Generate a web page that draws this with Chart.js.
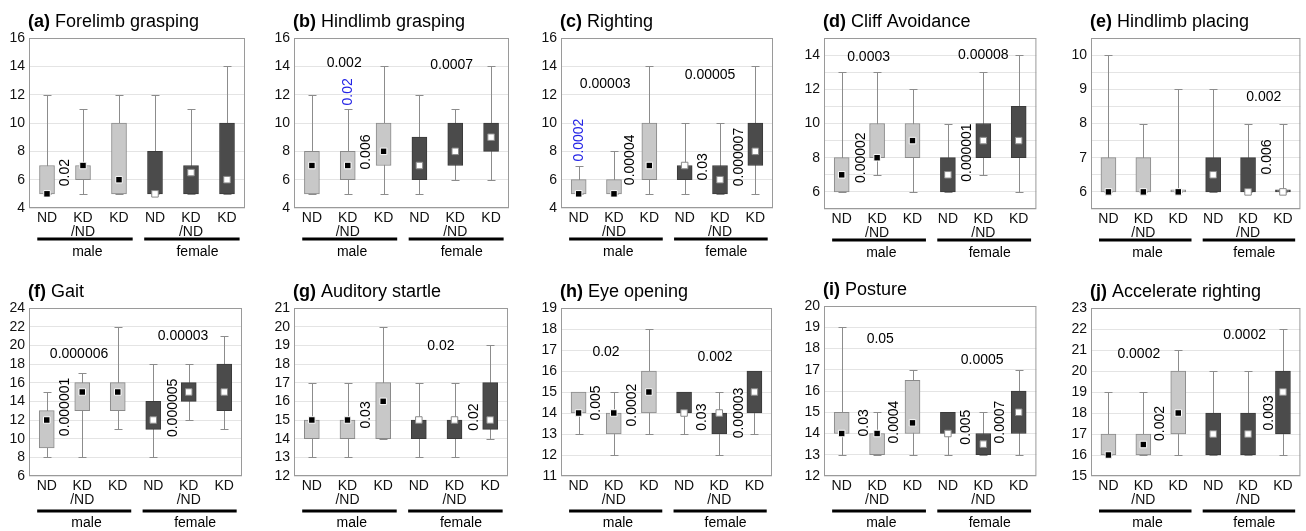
<!DOCTYPE html>
<html>
<head>
<meta charset="utf-8">
<script src="https://cdn.jsdelivr.net/npm/chart.js@4"></script>
<style>
    body { margin: 0; background: #fff; width: 1306px; height: 531px; overflow: hidden; position: relative; }
    .panel { position: absolute; }
</style>
</head>
<body>
<script>
// categories and group labels
const groupLabels = ['ND', ['KD', '/ND'], 'KD', 'ND', ['KD', '/ND'], 'KD'];
const sexLabels = ['male', 'female'];

// one entry per panel, (a) .. (j)
const panelLetters = ['(a)', '(b)', '(c)', '(d)', '(e)', '(f)', '(g)', '(h)', '(i)', '(j)'];
const panelTitles = ['Forelimb grasping', 'Hindlimb grasping', 'Righting', 'Cliff Avoidance', 'Hindlimb placing',
    'Gait', 'Auditory startle', 'Eye opening', 'Posture', 'Accelerate righting'];

const yMin = [4, 4, 4, 5, 5.5, 6, 12, 11, 12, 15];
const yMax = [16, 16, 16, 15, 10.5, 24, 21, 19, 20, 23];
const yGridStep = [2, 2, 2, 1, 0.5, 2, 1, 1, 1, 1];
const yLabelStep = [2, 2, 2, 2, 1, 2, 1, 1, 1, 1];

// box edges (lower / upper quartile)
const boxLow = [
    [5, 6, 5, 5, 5, 5],
    [5, 6, 7, 6, 7, 8],
    [5, 5, 6, 6, 5, 7],
    [6, 8, 8, 6, 8, 8],
    [6, 6, 6, 6, 6, 6],
    [9, 13, 13, 11, 14, 13],
    [14, 14, 14, 14, 14, 14.5],
    [14, 13, 14, 14, 13, 14],
    [14, 13, 14, 14, 13, 14],
    [16, 16, 17, 16, 16, 17]
];
const boxHigh = [
    [7, 7, 10, 8, 7, 10],
    [8, 8, 10, 9, 10, 10],
    [6, 6, 10, 7, 7, 10],
    [8, 10, 10, 8, 10, 11],
    [7, 7, 6, 7, 7, 6],
    [13, 16, 16, 14, 16, 18],
    [15, 15, 17, 15, 15, 17],
    [15, 14, 16, 15, 14, 16],
    [15, 14, 16.5, 15, 14, 16],
    [17, 17, 20, 18, 18, 20]
];
// whisker ends
const whiskerLow = [
    [5, 5, 5, 5, 5, 5],
    [5, 5, 5, 5, 6, 6],
    [5, 5, 5, 5, 5, 5],
    [6, 7, 6, 6, 7, 6],
    [6, 6, 6, 6, 6, 6],
    [8, 8, 11, 8, 12, 11],
    [13, 13, 14, 13, 13, 14],
    [13, 12, 13, 13, 12, 13],
    [13, 13, 13, 13, 13, 13],
    [16, 16, 16, 16, 16, 16]
];
const whiskerHigh = [
    [12, 11, 12, 12, 11, 14],
    [12, 11, 14, 12, 11, 14],
    [7, 8, 14, 10, 10, 14],
    [13, 13, 12, 10, 13, 14],
    [10, 8, 9, 9, 8, 8],
    [15, 17, 22, 18, 18, 21],
    [17, 17, 20, 17, 17, 19],
    [15, 15, 18, 15, 15, 16],
    [19, 15, 17, 15, 15, 17],
    [19, 19, 21, 20, 20, 22]
];
const medians = [
    [5, 7, 6, 5, 6.5, 6],
    [7, 7, 8, 7, 8, 9],
    [5, 5, 7, 7, 6, 8],
    [7, 8, 9, 7, 9, 9],
    [6, 6, 6, 6.5, 6, 6],
    [12, 15, 15, 12, 15, 15],
    [15, 15, 16, 15, 15, 15],
    [14, 14, 15, 14, 14, 15],
    [14, 14, 14.5, 14, 13.5, 15],
    [16, 16.5, 18, 17, 17, 19]
];

// p-values: [text, category position, y value, vertical?, blue?]
const pValues = [
    [['0.02', 0.5, 6.5, true]],
    [['0.002', 0.9, 14.2, false], ['0.02', 1.0, 12.2, true, true], ['0.006', 1.5, 7.95, true], ['0.0007', 3.9, 14.1, false]],
    [['0.00003', 0.75, 12.75, false], ['0.0002', 0.0, 8.8, true, true], ['0.00004', 1.45, 7.4, true],
     ['0.00005', 3.72, 13.4, false], ['0.03', 3.52, 6.9, true], ['0.000007', 4.54, 7.6, true]],
    [['0.0003', 0.76, 13.9, false], ['0.00002', 0.54, 8.0, true], ['0.00008', 4.0, 14.0, false], ['0.000001', 3.54, 8.3, true]],
    [['0.002', 4.45, 8.77, false], ['0.006', 4.54, 7.02, true]],
    [['0.000006', 0.91, 19.1, false], ['0.000001', 0.51, 13.4, true], ['0.00003', 3.84, 21.0, false], ['0.000005', 3.56, 13.3, true]],
    [['0.03', 1.52, 15.27, true], ['0.02', 3.62, 18.96, false], ['0.02', 4.55, 15.16, true]],
    [['0.02', 0.78, 16.9, false], ['0.005', 0.5, 14.48, true], ['0.0002', 1.52, 14.38, true],
     ['0.002', 3.88, 16.67, false], ['0.03', 3.5, 13.8, true], ['0.00003', 4.56, 14.0, true]],
    [['0.05', 1.09, 18.45, false], ['0.03', 0.62, 14.5, true], ['0.0004', 1.48, 14.54, true],
     ['0.0005', 3.97, 17.46, false], ['0.005', 3.52, 14.3, true], ['0.0007', 4.47, 14.54, true]],
    [['0.0002', 0.87, 20.8, false], ['0.002', 1.47, 17.5, true], ['0.0002', 3.9, 21.7, false], ['0.003', 4.59, 18.0, true]]
];

// layout of the page
const FONT = '"Liberation Sans", Arial, sans-serif';
const columnX = [0, 262, 522, 782, 1042, 1306];
const rowY = [0, 265, 531];
// plot area of each panel on the page: [left, right, top, bottom]
const plotFrames = [
    [29, 245, 38, 208], [294, 509, 38, 208], [561, 773, 38, 208], [824, 1038, 38, 209], [1091, 1303, 38, 209],
    [29, 242, 308, 476], [294, 508, 308, 476], [561, 772, 308, 476], [824, 1039, 306, 476], [1091, 1301, 308, 476]
];
const X_AXIS_H = 30;
const groupLineGap = [31, 35];
const groupTextGap = [44, 47];

const boxFills = ['#c8c8c8', '#c8c8c8', '#c8c8c8', '#4b4b4b', '#4b4b4b', '#4b4b4b'];
const boxBorders = ['#8a8a8a', '#8a8a8a', '#8a8a8a', '#3a3a3a', '#3a3a3a', '#3a3a3a'];
const medianFills = ['#000', '#000', '#000', '#fff', '#fff', '#fff'];
const medianBorders = ['#fff', '#fff', '#fff', '#8a8a8a', '#8a8a8a', '#8a8a8a'];

function makePanel(i) {
    const col = i % 5, row = Math.floor(i / 5);
    const [L, R, T, B] = plotFrames[i];
    const div = document.createElement('div');
    div.className = 'panel';
    div.style.left = columnX[col] + 'px';
    div.style.top = rowY[row] + 'px';
    div.style.width = (columnX[col + 1] - columnX[col]) + 'px';
    div.style.height = (rowY[row + 1] - rowY[row]) + 'px';
    const canvas = document.createElement('canvas');
    div.appendChild(canvas);
    document.body.appendChild(div);

    const boxPlugin = {
        id: 'boxes' + i,
        beforeDatasetsDraw(chart) {
            const { ctx, chartArea, scales } = chart;
            ctx.save();
            ctx.strokeStyle = '#8c8c8c';
            ctx.lineWidth = 1;
            for (let j = 0; j < 6; j++) {
                const x = Math.round(scales.x.getPixelForValue(j)) + 0.5;
                const y1 = Math.round(scales.y.getPixelForValue(whiskerLow[i][j])) + 0.5;
                const y2 = Math.round(scales.y.getPixelForValue(whiskerHigh[i][j])) + 0.5;
                ctx.beginPath();
                ctx.moveTo(x, y1); ctx.lineTo(x, y2);
                ctx.moveTo(x - 4, y1); ctx.lineTo(x + 4, y1);
                ctx.moveTo(x - 4, y2); ctx.lineTo(x + 4, y2);
                ctx.stroke();
            }
            ctx.strokeStyle = '#9a9a9a';
            ctx.strokeRect(chartArea.left + 0.5, chartArea.top + 0.5,
                chartArea.right - chartArea.left - 1, chartArea.bottom - chartArea.top - 1);
            ctx.restore();
        },
        afterDraw(chart) {
            const { ctx, chartArea, scales } = chart;
            ctx.save();
            // title
            ctx.fillStyle = '#000';
            ctx.textBaseline = 'alphabetic';
            ctx.textAlign = 'left';
            ctx.font = 'bold 18px ' + FONT;
            const tx = chartArea.left - 1, ty = chartArea.top - 11;
            ctx.fillText(panelLetters[i], tx, ty);
            const w = ctx.measureText(panelLetters[i] + ' ').width;
            ctx.font = '18px ' + FONT;
            ctx.fillText(panelTitles[i], tx + w, ty);

            // p-values
            ctx.font = '14px ' + FONT;
            ctx.textAlign = 'center';
            ctx.textBaseline = 'middle';
            pValues[i].forEach(p => {
                const x = scales.x.getPixelForValue(p[1]);
                const y = scales.y.getPixelForValue(p[2]);
                ctx.fillStyle = p[4] ? '#2323e6' : '#000';
                if (p[3]) {
                    ctx.save();
                    ctx.translate(x, y);
                    ctx.rotate(-Math.PI / 2);
                    ctx.fillText(p[0], 0, 0);
                    ctx.restore();
                } else {
                    ctx.fillText(p[0], x, y);
                }
            });

            // male / female group bars
            ctx.fillStyle = '#000';
            ctx.strokeStyle = '#000';
            ctx.lineWidth = 3;
            const ly = chartArea.bottom + groupLineGap[row];
            const gy = chartArea.bottom + groupTextGap[row];
            [[-0.27, 2.38, 1.12], [2.7, 5.35, 4.18]].forEach((g, k) => {
                ctx.beginPath();
                ctx.moveTo(scales.x.getPixelForValue(g[0]), ly);
                ctx.lineTo(scales.x.getPixelForValue(g[1]), ly);
                ctx.stroke();
                ctx.fillText(sexLabels[k], scales.x.getPixelForValue(g[2]), gy);
            });
            ctx.restore();
        }
    };

    new Chart(canvas, {
        type: 'bar',
        data: {
            labels: groupLabels,
            datasets: [
                {
                    type: 'line',
                    data: medians[i],
                    showLine: false,
                    pointStyle: 'rect',
                    pointRadius: 4.6,
                    pointBackgroundColor: medianFills,
                    pointBorderColor: medianBorders,
                    pointBorderWidth: 1,
                    order: 0
                },
                {
                    type: 'bar',
                    data: boxLow[i].map((v, j) => [v, boxHigh[i][j]]),
                    backgroundColor: boxFills,
                    borderColor: boxBorders,
                    borderWidth: 1,
                    borderSkipped: false,
                    minBarLength: 2,
                    barThickness: 15,
                    grouped: false,
                    order: 1
                }
            ]
        },
        options: {
            responsive: true,
            maintainAspectRatio: false,
            animation: false,
            events: [],
            layout: {
                padding: {
                    left: 0,
                    top: T - rowY[row],
                    right: columnX[col + 1] - R,
                    bottom: rowY[row + 1] - B - X_AXIS_H
                }
            },
            plugins: { legend: { display: false }, tooltip: { enabled: false } },
            scales: {
                x: {
                    offset: true,
                    grid: { display: false, drawTicks: false },
                    border: { display: false },
                    afterFit: s => { s.height = X_AXIS_H; },
                    ticks: {
                        autoSkip: false, maxRotation: 0, padding: 3, color: '#111',
                        font: { family: FONT, size: 14, lineHeight: 1.0 }
                    }
                },
                y: {
                    min: yMin[i],
                    max: yMax[i],
                    grid: { color: '#e4e4e4', drawTicks: false },
                    border: { display: false },
                    afterFit: s => { s.width = L - columnX[col]; },
                    ticks: {
                        stepSize: yGridStep[i], autoSkip: false, padding: 4, color: '#111',
                        font: { family: FONT, size: 14 },
                        callback: v => (v % yLabelStep[i] === 0 ? String(v) : '')
                    }
                }
            }
        },
        plugins: [boxPlugin]
    });
}

for (let i = 0; i < 10; i++) makePanel(i);
</script>
</body>
</html>
